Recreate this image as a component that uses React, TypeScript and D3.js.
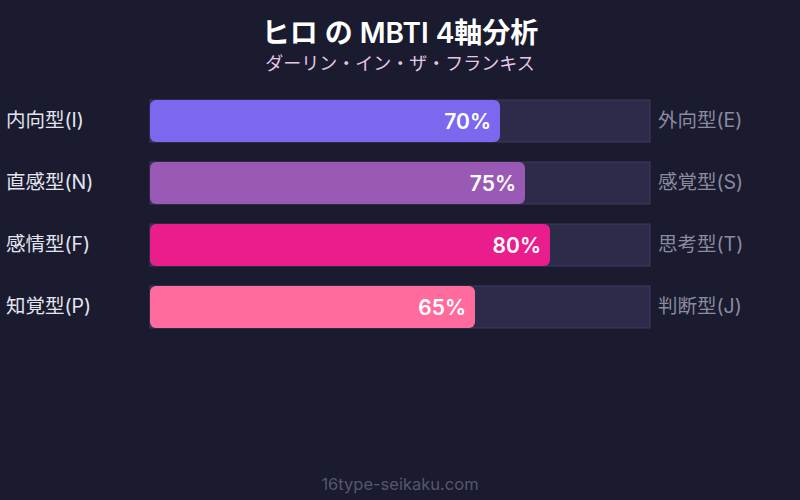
import React, { useEffect, useRef } from 'react';
import * as d3 from 'd3';

const leftLabels = ['内向型(I)', '直感型(N)', '感情型(F)', '知覚型(P)'];
const rightLabels = ['外向型(E)', '感覚型(S)', '思考型(T)', '判断型(J)'];
const values = [70, 75, 80, 65];
const colors = ['#7b68ee', '#9b59b6', '#e91e8c', '#ff6b9d'];

const W = 800;
const H = 500;
const FONT = "Inter, 'Noto Sans CJK JP', sans-serif";

const App: React.FC = () => {
  const svgRef = useRef<SVGSVGElement>(null);

  useEffect(() => {
    if (!svgRef.current) return;
    const svg = d3.select(svgRef.current);
    svg.selectAll('*').remove();

    svg.append('rect').attr('width', W).attr('height', H).attr('fill', '#1a1b2e');

    // Title
    svg.append('text')
      .attr('x', W / 2).attr('y', 43)
      .attr('text-anchor', 'middle')
      .style('font-family', FONT).style('font-size', '28px').style('font-weight', 600)
      .style('fill', '#ffffff')
      .text('ヒロ の MBTI 4軸分析');

    svg.append('text')
      .attr('x', W / 2).attr('y', 70)
      .attr('text-anchor', 'middle')
      .style('font-family', FONT).style('font-size', '18px')
      .style('fill', '#e6c6ea')
      .text('ダーリン・イン・ザ・フランキス');

    const x = d3.scaleLinear().domain([0, 100]).range([150, 650]);
    const y = d3.scaleBand<number>()
      .domain(d3.range(values.length))
      .range([100, 100 + 62 * values.length - 20])
      .paddingInner(20 / 62)
      .paddingOuter(0);

    const rows = svg.selectAll('g.row')
      .data(values)
      .enter()
      .append('g')
      .attr('class', 'row');

    rows.append('rect')
      .attr('x', x(0))
      .attr('y', (_, i) => y(i)!)
      .attr('width', x(100) - x(0))
      .attr('height', y.bandwidth())
      .attr('fill', '#2d2b4a')
      .attr('stroke', '#3f3d5e')
      .attr('stroke-width', 1);

    rows.append('rect')
      .attr('x', x(0))
      .attr('y', (_, i) => y(i)!)
      .attr('width', d => x(d) - x(0))
      .attr('height', y.bandwidth())
      .attr('rx', 6)
      .attr('ry', 6)
      .attr('fill', (_, i) => colors[i]);

    rows.append('text')
      .attr('x', d => x(d) - 9)
      .attr('y', (_, i) => y(i)! + y.bandwidth() / 2)
      .attr('dy', '0.36em')
      .attr('text-anchor', 'end')
      .style('font-family', FONT).style('font-size', '21px').style('font-weight', 600)
      .style('fill', '#ffffff')
      .text(d => `${d}%`);

    rows.append('text')
      .attr('x', 6)
      .attr('y', (_, i) => y(i)! + y.bandwidth() / 2)
      .attr('dy', '0.3em')
      .style('font-family', FONT).style('font-size', '19.5px')
      .style('fill', '#e4e4f0')
      .text((_, i) => leftLabels[i]);

    rows.append('text')
      .attr('x', 658)
      .attr('y', (_, i) => y(i)! + y.bandwidth() / 2)
      .attr('dy', '0.3em')
      .style('font-family', FONT).style('font-size', '19.5px')
      .style('fill', '#8a8aa0')
      .text((_, i) => rightLabels[i]);

    svg.append('text')
      .attr('x', W / 2).attr('y', 490)
      .attr('text-anchor', 'middle')
      .style('font-family', FONT).style('font-size', '16.5px')
      .style('fill', '#55576e')
      .text('16type-seikaku.com');
  }, []);

  return (
    <svg ref={svgRef} width={W} height={H}
      style={{ position: 'absolute', left: 0, top: 0, display: 'block' }} />
  );
};

export default App;
